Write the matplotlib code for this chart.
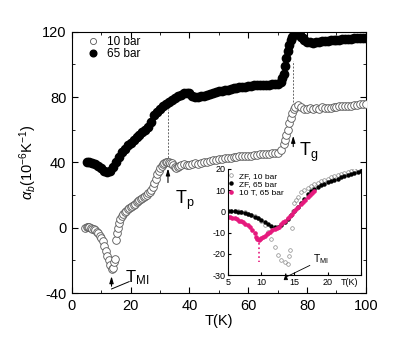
import numpy as np
import matplotlib
matplotlib.use("Agg")
import matplotlib.pyplot as plt
from matplotlib.ticker import MultipleLocator

plt.rcParams['font.family'] = ['Liberation Sans', 'DejaVu Sans']
plt.rcParams['mathtext.fontset'] = 'custom'
plt.rcParams['mathtext.rm'] = 'Liberation Sans'
plt.rcParams['mathtext.it'] = 'Liberation Sans:italic'
plt.rcParams['axes.unicode_minus'] = False

# ---------------------------------------------------------
# main panel data: alpha_b vs T
# ---------------------------------------------------------

t_65 = [5, 6, 7, 8, 9, 10, 11, 12, 13, 14, 15, 16, 17, 18, 19, 20, 21, 22, 23, 24,
        25, 26, 27, 28, 29, 30, 31, 32, 33, 34, 35, 36, 37, 38, 39, 40, 41, 42, 43, 44,
        45, 46, 47, 48, 49, 50, 51, 52, 53, 54, 55, 56, 57, 58, 59, 60, 61, 62, 63, 64,
        65, 66, 67, 68, 69, 70, 71, 71.5, 72, 72.5, 73, 73.5, 74, 74.5, 75, 75.5, 76, 76.5, 77, 77.5,
        78, 78.5, 79, 80, 81, 82, 83, 84, 85, 86, 87, 88, 89, 90, 91, 92, 93, 94, 95, 96,
        97, 98, 99, 100]
a_65 = [40, 40, 39.8, 39, 38, 36.5, 35, 34, 34.5, 37, 40, 43.5, 46.5, 48.5, 50.5, 52, 54, 55.5, 57, 58.5,
        60, 61.5, 65, 69, 71, 73, 74.5, 75.5, 77, 78.5, 79.5, 80.5, 81.5, 82.3, 82.8, 82.5, 81, 80, 80, 80.5,
        81, 81.5, 82, 82.5, 83, 83.5, 83.8, 84.3, 84.6, 85, 85.3, 85.8, 86, 86.3, 86.5, 86.8, 87, 87.3, 87.4, 87.5,
        87.6, 87.7, 87.7, 87.8, 87.9, 88, 89.5, 91.5, 94, 99, 104, 108, 112, 115, 117, 118.5, 119, 119.2, 119, 118,
        117, 116, 115, 114, 113.5, 113.3, 113.5, 114, 114.1, 114.3, 114.5, 114.8, 114.9, 115, 115.2, 115.5, 115.6, 115.8, 115.9, 116,
        116.1, 116.3, 116.4, 116.5]

t_10 = [4.5, 5, 5.5, 6, 6.5, 7, 7.5, 8, 8.5, 9, 9.5, 10, 10.5, 11, 11.5, 12, 12.5, 13, 13.5, 14,
        14.3, 14.6, 15, 15.3, 15.6, 16, 16.5, 17, 17.5, 18, 18.5, 19, 19.5, 20, 20.5, 21, 21.5, 22, 22.5, 23,
        23.5, 24, 24.5, 25, 25.5, 26, 26.5, 27, 27.5, 28, 28.5, 29, 29.5, 30, 30.5, 31, 31.5, 32, 32.5, 33,
        33.5, 34, 34.5, 35, 35.5, 36, 36.5, 37, 38, 39, 40, 41, 42, 43, 44, 45, 46, 47, 48, 49,
        50, 51, 52, 53, 54, 55, 56, 57, 58, 59, 60, 61, 62, 63, 64, 65, 66, 67, 68, 69,
        70, 71, 72, 72.5, 73, 73.5, 74, 74.5, 75, 75.5, 76, 77, 78, 79, 80, 81, 82, 83, 84, 85,
        86, 87, 88, 89, 90, 91, 92, 93, 94, 95, 96, 97, 98, 99, 100]
a_10 = [0, 0.5, 0.5, 0.5, 0, -0.5, -1, -1.5, -2.5, -3.5, -5, -6, -8, -11, -14, -17, -20, -23, -25, -24.5,
        -21, -19, -7.5, -3, 0, 3, 5.5, 7.5, 8.5, 9.5, 10.5, 11.5, 12, 12.5, 13.2, 14, 14.8, 15.5, 16.2, 17,
        17.5, 18, 18.8, 19.5, 20.2, 21, 22, 23, 25, 27.5, 30, 33, 35, 36.5, 38, 39, 39.6, 40, 40.2, 40,
        39.8, 39.5, 38.5, 37.5, 36.5, 37, 37.8, 38.5, 39, 38.5, 38.5, 39, 39.5, 39, 39.5, 40, 40.5, 41, 41.5, 41.7,
        42, 42.2, 42.5, 42.7, 43, 43.2, 43.5, 43.7, 44, 44, 44, 44.2, 44.5, 44.7, 45, 45.1, 45.3, 45.4, 45.5, 45.7,
        46, 47.5, 51, 54, 57, 60, 64, 67, 70, 72.5, 74, 75, 74, 73, 73, 73.5, 72.5, 73.5, 73, 74,
        73.5, 73.2, 73.5, 73.8, 74, 74.3, 74.5, 74.3, 74.5, 74.8, 75, 75.2, 75.5, 75.8, 76]

# ---------------------------------------------------------
# inset data
# ---------------------------------------------------------

t_zf65 = [5, 5.5, 6, 6.5, 7, 7.5, 8, 8.5, 9, 9.5, 10, 10.5, 11, 11.5, 12, 12.5, 13, 13.5, 14, 14.5,
          15, 15.5, 16, 16.5, 17, 17.5, 18, 18.5, 19, 19.5, 20, 20.5, 21, 21.5, 22, 22.5, 23, 23.5, 24, 24.5, 25]
a_zf65 = [0, 0, 0, -0.3, -0.5, -0.8, -1.2, -1.8, -2.5, -3.3, -4, -5, -6, -7, -7.5, -7.3, -6.3, -5, -3.5, -1.8,
          0, 2, 4, 6, 8, 9.5, 10.5, 11.5, 12.3, 13, 13.8, 14.5, 15, 15.5, 16, 16.6, 17.1, 17.6, 18.2, 18.7, 19.2]

t_10t = [5, 5.3, 5.6, 6, 6.3, 6.6, 7, 7.3, 7.6, 8, 8.3, 8.6, 9, 9.2, 9.4, 9.6, 9.8, 10, 10.2, 10.5,
         10.8, 11, 11.3, 11.6, 12, 12.3, 12.6, 13, 13.3, 13.6, 14, 14.3, 14.6, 15, 15.3, 15.6, 16, 16.3, 16.6, 17,
         17.3, 17.6, 18]
a_10t = [-2.5, -2.8, -3, -3.3, -3.5, -4.5, -4.3, -5, -5.8, -6.5, -7.5, -8.8, -10, -12, -13, -13.5, -13, -12.5, -12, -11.5,
         -10.5, -10, -9.5, -9, -8.5, -8, -7.3, -6, -5, -4.3, -3, -2.3, -1.2, 0, 1, 2.2, 3.5, 4.5, 5.5, 6.8,
         7.8, 8.8, 9.8]

t_zf10 = [5, 5.5, 6, 6.5, 7, 7.5, 8, 8.5, 9, 9.5, 10, 10.5, 11, 11.5, 12, 12.5, 13, 13.5, 14, 14.2,
          14.4, 14.6, 14.8, 15, 15.2, 15.5, 16, 16.5, 17, 17.5, 18, 18.5, 19, 19.5, 20, 20.5, 21, 21.5, 22, 22.5,
          23, 23.5, 24, 24.5, 25]
a_zf10 = [0, 0, 0, 0, -0.3, -0.5, -1, -1.5, -2.2, -3, -4.5, -6.5, -9.5, -13, -17, -20.5, -23, -24, -25, -21,
          -18, -8, 0, 4, 5.5, 7, 9, 10.2, 11.2, 12, 12.8, 13.5, 14.2, 14.8, 15.4, 16, 16.5, 17, 17.5, 18,
          18.5, 19, 19.5, 20, 20.3]

pink = "#e6197d"

# ---------------------------------------------------------
# main plot
# ---------------------------------------------------------

fig = plt.figure(figsize=(3.99, 3.46), dpi=100)
ax = fig.add_axes([0.180, 0.153, 0.737, 0.755])

ax.plot(t_10, a_10, "o", mfc="white", mec="#555555", mew=0.6, ms=5.5, label="10 bar", zorder=3)
ax.plot(t_65, a_65, "o", color="black", ms=6, label="65 bar", zorder=2)

ax.set_xlim(0, 100)
ax.set_ylim(-40, 120)
ax.xaxis.set_major_locator(MultipleLocator(20))
ax.xaxis.set_minor_locator(MultipleLocator(10))
ax.yaxis.set_major_locator(MultipleLocator(40))
ax.yaxis.set_minor_locator(MultipleLocator(20))
ax.tick_params(which="both", direction="in", top=True, right=True, labelsize=10.5, pad=4)
ax.tick_params(which="major", length=4)
ax.tick_params(which="minor", length=2.5)

ax.set_xlabel("T(K)", fontsize=10.5, labelpad=1)
ax.set_ylabel(r"$\alpha_b$(10$^{-6}$K$^{-1}$)", fontsize=10.5, labelpad=2)

ax.legend(loc="upper left", bbox_to_anchor=(0.051, 0.985), frameon=False, fontsize=8.5,
          handlelength=1, handletextpad=0.7, labelspacing=0, borderpad=0, borderaxespad=0,
          markerscale=0.8)

# dashed guide lines
ax.plot([32.7, 32.7], [41, 73], ls=(0, (2, 1.5)), color="#666666", lw=0.7)
ax.plot([75.2, 75.2], [77, 102], ls=(0, (2, 1.5)), color="#666666", lw=0.7)

arrow = dict(arrowstyle="-|>,head_length=0.4,head_width=0.12", color="black", lw=0.8)
ax.annotate("", xy=(32.7, 38), xytext=(32.7, 26), arrowprops=arrow)
ax.text(35, 17, r"T$_{\rm p}$", fontsize=13, va="center")
ax.annotate("", xy=(75.3, 58), xytext=(75.3, 48), arrowprops=arrow)
ax.text(77.3, 46, r"T$_{\rm g}$", fontsize=13, va="center")
ax.annotate("", xy=(13.5, -28), xytext=(13.5, -37.5), arrowprops=arrow)
ax.plot([13.5, 19.5], [-37.5, -33], color="black", lw=0.7)
ax.text(18, -30.5, r"T$_{\rm MI}$", fontsize=12, va="center")

# ---------------------------------------------------------
# inset
# ---------------------------------------------------------

ins = fig.add_axes([0.5714, 0.2052, 0.3333, 0.3064])
ins.plot(t_zf10, a_zf10, "o", mfc="none", mec="#8a8a8a", mew=0.5, ms=2.6, label="ZF, 10 bar")
ins.plot(t_zf65, a_zf65, "o", color="black", ms=2.2, label="ZF, 65 bar")
ins.plot(t_10t, a_10t, "o", color=pink, ms=2.3, label="10 T, 65 bar")
ins.plot([9.7, 9.7], [-15, -24], ls=":", color=pink, lw=1.2)

ins.set_xlim(5, 25)
ins.set_ylim(-30, 20)
ins.spines["top"].set_visible(False)
ins.set_xticks([5, 10, 15, 20, 25])
ins.set_xticklabels(["5", "10", "15", "20", ""])
ins.set_yticks([-30, -20, -10, 0, 10, 20])
ins.tick_params(direction="in", length=2, labelsize=6.5, pad=2)
ins.annotate("T(K)", xy=(23.3, 0), xycoords=("data", "axes fraction"), xytext=(0, -2),
             textcoords="offset points", fontsize=6.5, ha="center", va="top")

ins.legend(loc="upper left", bbox_to_anchor=(0.0, 0.97), frameon=False, fontsize=6,
           handlelength=0.8, handletextpad=0.5, labelspacing=0.05, borderpad=0, borderaxespad=0)

small_arrow = dict(arrowstyle="-|>,head_length=0.35,head_width=0.12", color="black", lw=0.6)
ins.annotate("", xy=(13.7, -28), xytext=(13.7, -31), arrowprops=small_arrow, annotation_clip=False)
ins.plot([13.7, 17.3], [-31, -25.5], color="black", lw=0.6, clip_on=False)
ins.text(17.8, -22.5, r"T$_{\rm MI}$", fontsize=7.5, va="center")

fig.savefig("out.png", dpi=100)
